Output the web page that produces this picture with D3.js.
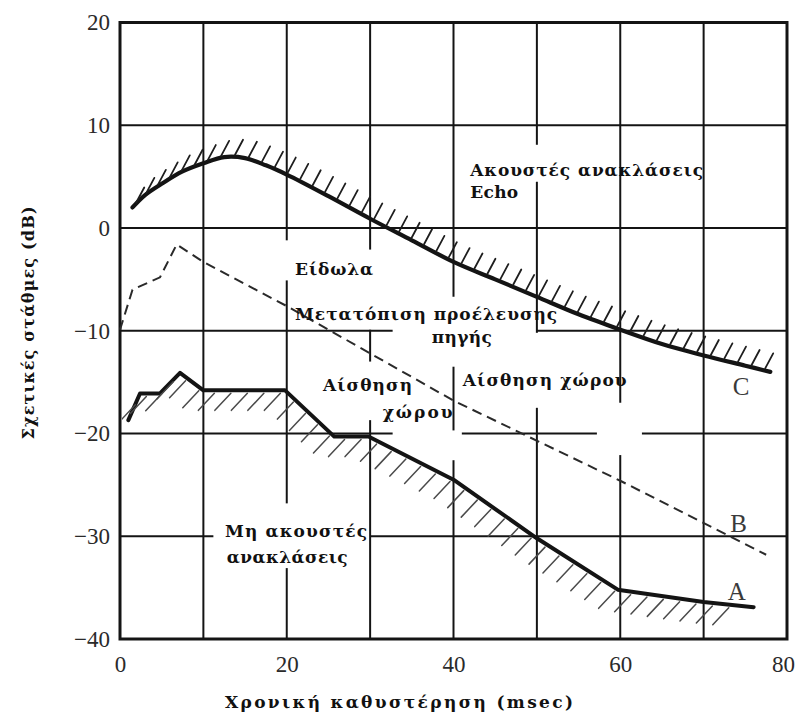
<!DOCTYPE html>
<html><head><meta charset="utf-8">
<script src="https://cdn.jsdelivr.net/npm/d3@7"></script>
<style>body{margin:0;background:#fff}svg{display:block}</style>
</head><body>
<svg id="c" width="796" height="716"></svg>
<script>
// ---- data ----
const curveC = [[1.5,2],[3,3.2],[5,4.3],[7.5,5.5],[10,6.3],[12.5,6.9],[15,6.8],[17.5,6.1],[20,5.2],[25,3.1],[30,0.9],[35,-1.2],[40,-3.3],[45,-5],[50,-6.7],[55,-8.4],[60,-9.9],[65,-11.3],[70,-12.4],[75,-13.4],[78,-14]];
const curveB = [[0,-9.9],[1.5,-6],[4.8,-4.8],[6.8,-1.6],[10,-3.3],[20,-7.6],[40,-16.8],[60,-24.6],[77.5,-31.8]];
const curveA = [[1,-18.7],[2.4,-16.1],[4.8,-16.1],[7.2,-14.1],[10,-15.8],[19.8,-15.8],[25.7,-20.3],[29.8,-20.3],[40,-24.5],[50,-30.2],[59.7,-35.2],[70,-36.4],[76,-36.9]];
const xTickLabels = [0,20,40,60,80];
const yTickLabels = [20,10,0,-10,-20,-30,-40];
const gridXValues = [10,20,30,40,50,60,70];
const gridYValues = [10,0,-10,-20,-30];
const xTitle = "Χρονική καθυστέρηση (msec)";
const yTitle = "Σχετικές στάθμες (dB)";
const regionLabels = [
  {t:"Ακουστές ανακλάσεις", x:42, y:5.1, w:233},
  {t:"Echo", x:42, y:2.9, w:48},
  {t:"Είδωλα", x:21, y:-4.6, w:78},
  {t:"Μετατόπιση προέλευσης", x:21, y:-9.0, w:262},
  {t:"πηγής", x:37.4, y:-11.2, w:60},
  {t:"Αίσθηση", x:24.35, y:-15.9, w:89},
  {t:"χώρου", x:31.5, y:-18.5, w:70},
  {t:"Αίσθηση χώρου", x:41.1, y:-15.4, w:164},
  {t:"Μη ακουστές", x:12.6, y:-30.1, w:142},
  {t:"ανακλάσεις", x:12.8, y:-32.6, w:121}
];
const curveLabels = [{t:"C",x:73.5,y:-16.3},{t:"B",x:73.2,y:-29.6},{t:"A",x:72.9,y:-36.2}];
// gaps in grid lines (where labels were pasted over the grid)
const gapsV = {20:[[-1.2,-5.1],[-26.8,-33.1]],30:[[-2.1,-9.9],[-13.0,-18.7]],40:[[-6.7,-13.5],[-19.7,-22.6]],50:[[8.1,4.5],[-10.2,-17.5]],60:[[-17.0,-22.1]]};
const gapsH = {"-10":[[32.7,50]],"-20":[[32.7,41],[57.2,62.6]],"-30":[[11.2,30]]};

// ---- drawing ----
const svg = d3.select("#c");
const x = d3.scaleLinear([0,80],[120,787]);
const y = d3.scaleLinear([-40,20],[639,22.5]);
const ink = "#141414";

svg.append("defs").append("clipPath").attr("id","plot").append("rect")
  .attr("x",x(0)+2).attr("y",y(20)).attr("width",x(80)-x(0)-4).attr("height",y(-40)-y(20)-2);

function segments(lo, hi, gaps){
  const g = (gaps||[]).map(d=>[Math.min(d[0],d[1]),Math.max(d[0],d[1])]).sort((a,b)=>a[0]-b[0]);
  const out=[]; let s=lo;
  g.forEach(([a,b])=>{ if(a>s) out.push([s,a]); s=Math.max(s,b); });
  if(s<hi) out.push([s,hi]);
  return out;
}
const grid = svg.append("g").attr("stroke",ink).attr("stroke-width",2);
gridXValues.forEach(v=>{
  segments(-40,20,gapsV[v]).forEach(([a,b])=>{
    grid.append("line").attr("x1",x(v)).attr("x2",x(v)).attr("y1",y(a)).attr("y2",y(b));
  });
});
gridYValues.forEach(v=>{
  segments(0,80,gapsH[String(v)]).forEach(([a,b])=>{
    grid.append("line").attr("y1",y(v)).attr("y2",y(v)).attr("x1",x(a)).attr("x2",x(b));
  });
});
svg.append("rect").attr("x",x(0)).attr("y",y(20)).attr("width",x(80)-x(0)).attr("height",y(-40)-y(20))
  .attr("fill","none").attr("stroke",ink).attr("stroke-width",3);

// axes
const fmt = d => d<0 ? "\u2212"+Math.abs(d) : String(d);
const ax = svg.append("g").attr("transform",`translate(${x(0)},0)`)
  .call(d3.axisLeft(y).tickValues(yTickLabels).tickSize(0).tickPadding(10).tickFormat(fmt));
const bx = svg.append("g").attr("transform",`translate(0,${y(-40)})`)
  .call(d3.axisBottom(x).tickValues(xTickLabels).tickSize(0).tickPadding(17).tickFormat(fmt));
[ax,bx].forEach(g=>{
  g.select(".domain").remove();
  g.selectAll("text").attr("font-family","'Liberation Serif', serif").attr("font-size",23).attr("fill","#2a2a2a");
});
bx.selectAll(".tick").filter(d=>d===80).select("text").attr("dx",-4);

// curves
const lineLin = d3.line().x(d=>x(d[0])).y(d=>y(d[1]));
const lineSmooth = d3.line().x(d=>x(d[0])).y(d=>y(d[1])).curve(d3.curveCatmullRom);

const pathC = svg.append("path").attr("d",lineSmooth(curveC)).attr("fill","none").attr("stroke",ink)
  .attr("stroke-width",4.2).attr("stroke-linecap","round").attr("stroke-linejoin","round");
const pathA = svg.append("path").attr("d",lineLin(curveA)).attr("fill","none").attr("stroke",ink)
  .attr("stroke-width",4).attr("stroke-linecap","round").attr("stroke-linejoin","round");
svg.append("path").attr("d",lineLin(curveB)).attr("fill","none").attr("stroke","#2a2a2a")
  .attr("stroke-width",2).attr("stroke-dasharray","10,6");

// hatching
function hatch(path, step, start, endTrim, dx1, dy1, dx2, dy2, color, w){
  const node = path.node(), L = node.getTotalLength();
  const g = svg.append("g").attr("clip-path","url(#plot)").attr("stroke",color).attr("stroke-width",w).attr("stroke-linecap","round");
  for(let l=start; l<=L-endTrim; l+=step){
    const p = node.getPointAtLength(l);
    g.append("line").attr("x1",p.x+dx1).attr("y1",p.y+dy1).attr("x2",p.x+dx2).attr("y2",p.y+dy2);
  }
}
hatch(pathC, 14, 4, 4, 1, -2, 9, -17, "#1e1e1e", 1.8);
hatch(pathA, 16.5, 20, 14, -1, 3, -17, 20, "#4a4a4a", 1.5);

// region labels
svg.append("g").selectAll("text").data(regionLabels).join("text")
  .attr("x",d=>x(d.x)).attr("y",d=>y(d.y))
  .attr("textLength",d=>d.w).attr("lengthAdjust","spacing")
  .attr("font-family","'DejaVu Serif', serif").attr("font-weight","bold").attr("font-size",17)
  .attr("fill","#111").text(d=>d.t);

svg.append("g").selectAll("text").data(curveLabels).join("text")
  .attr("x",d=>x(d.x)).attr("y",d=>y(d.y))
  .attr("font-family","'Liberation Serif', serif").attr("font-size",25).attr("fill","#3a3a3a").text(d=>d.t);

// axis titles
svg.append("text").attr("x",399).attr("y",708).attr("text-anchor","middle")
  .attr("textLength",348).attr("lengthAdjust","spacing")
  .attr("font-family","'DejaVu Serif', serif").attr("font-weight","bold").attr("font-size",17).attr("fill","#111").text(xTitle);
svg.append("text").attr("transform","translate(34,323) rotate(-90)").attr("text-anchor","middle")
  .attr("textLength",233).attr("lengthAdjust","spacing")
  .attr("font-family","'DejaVu Serif', serif").attr("font-weight","bold").attr("font-size",16).attr("fill","#111").text(yTitle);
</script>
</body></html>
